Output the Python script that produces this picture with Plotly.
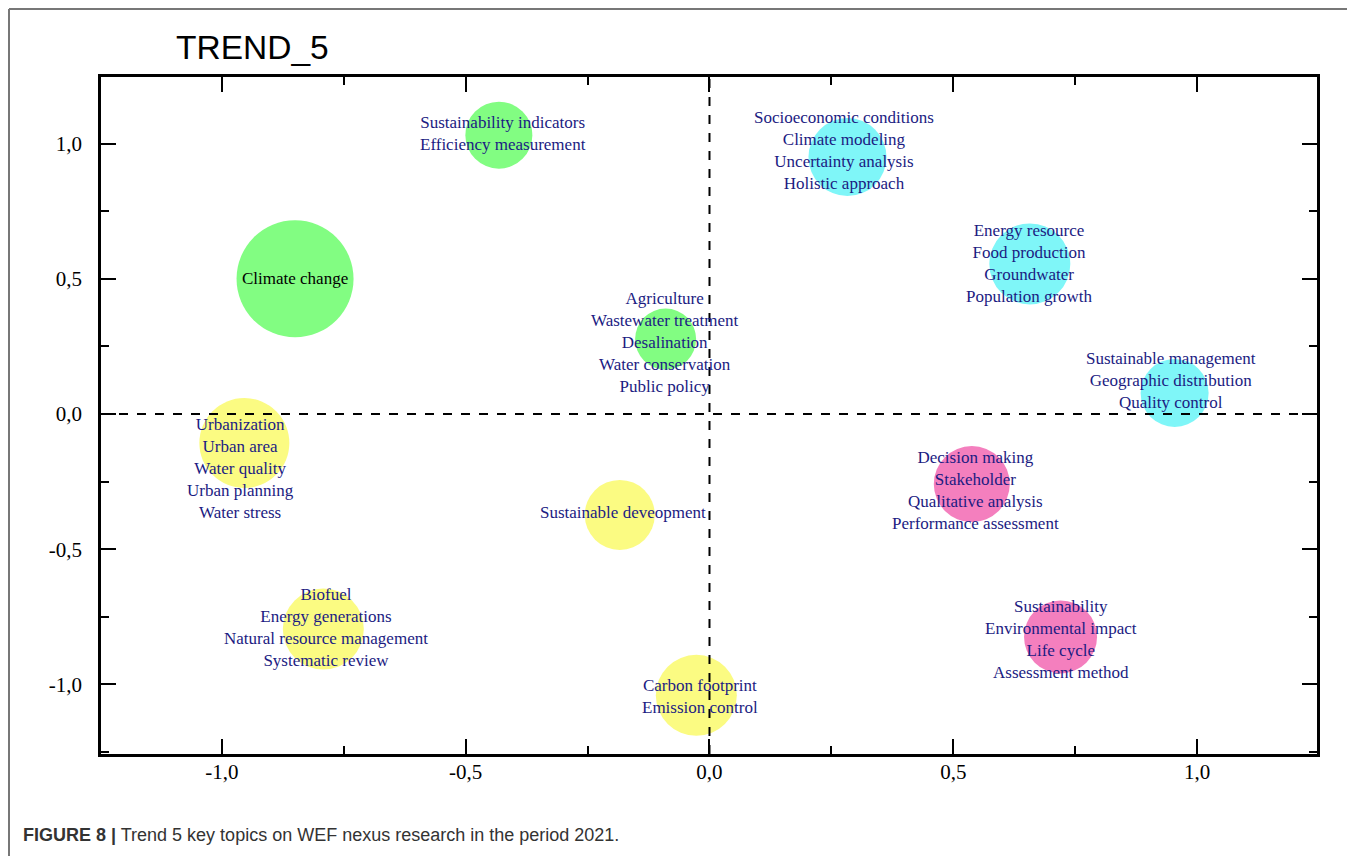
import plotly.graph_objects as go

# ---- data ----
topics = [
    ["Sustainability indicators", "Efficiency measurement"],
    ["Climate change"],
    ["Agriculture", "Wastewater treatment", "Desalination", "Water conservation", "Public policy"],
    ["Socioeconomic conditions", "Climate modeling", "Uncertainty analysis", "Holistic approach"],
    ["Energy resource", "Food production", "Groundwater", "Population growth"],
    ["Sustainable management", "Geographic distribution", "Quality control"],
    ["Urbanization", "Urban area", "Water quality", "Urban planning", "Water stress"],
    ["Biofuel", "Energy generations", "Natural resource management", "Systematic review"],
    ["Sustainable deveopment"],
    ["Carbon footprint", "Emission control"],
    ["Decision making", "Stakeholder", "Qualitative analysis", "Performance assessment"],
    ["Sustainability", "Environmental impact", "Life cycle", "Assessment method"],
]
x_vals = [-0.432, -0.850, -0.090, 0.283, 0.657, 0.954, -0.954, -0.792, -0.184, -0.027, 0.538, 0.720]
y_vals = [1.031, 0.500, 0.277, 0.950, 0.555, 0.078, -0.107, -0.795, -0.373, -1.040, -0.259, -0.824]
weights = [67, 117, 61, 78, 81, 68, 90, 81, 70, 81, 76, 73]
groups = ["green", "green", "green", "cyan", "cyan", "cyan",
          "yellow", "yellow", "yellow", "yellow", "pink", "pink"]

tick_vals = [-1.0, -0.5, 0.0, 0.5, 1.0]
tick_text = ["-1,0", "-0,5", "0,0", "0,5", "1,0"]
minor_vals = [-1.25, -0.75, -0.25, 0.25, 0.75, 1.25]

# ---- styles ----
group_colors = {"green": "#82fd82", "cyan": "#7ff6f8", "yellow": "#fbfb82", "pink": "#f47fbe"}
label_shift = [(4, 1.5), (0, 0), (-1, -3), (-3, 7), (0, 0), (-4, 12),
               (-4, -26), (3, 2), (3, 2), (4, -1.5), (4, -6), (0, -3)]

SERIF = "Liberation Serif, Times New Roman, serif"
SANS = "Liberation Sans, Arial, sans-serif"

fig = go.Figure()
fig.add_trace(go.Scatter(
    x=x_vals, y=y_vals, mode="markers",
    marker=dict(size=weights, sizemode="diameter", sizeref=1,
                color=[group_colors[g] for g in groups], opacity=1,
                line=dict(width=0)),
    hoverinfo="skip", showlegend=False,
))

annotations = []
for i, lines in enumerate(topics):
    dx, dy = label_shift[i]
    annotations.append(dict(
        x=x_vals[i], y=y_vals[i], xref="x", yref="y", showarrow=False,
        text="<br>".join(lines), xshift=dx, yshift=dy,
        font=dict(family=SERIF, size=17,
                  color="#000000" if lines == ["Climate change"] else "#1b1b82"),
        align="center",
    ))

# page body margin of 8px offsets the figure; work in page pixels
OFF = 8
W, H = 1355 - OFF, 856 - OFF
L, R, T, B = 101 - OFF, 38, 77 - OFF, 102
pw, ph = W - L - R, H - T - B

def px_x(p):  # page pixel -> paper x
    return (p - OFF - L) / pw

def px_y(p):  # page pixel -> paper y
    return (H - B - (p - OFF)) / ph

annotations.append(dict(
    x=px_x(174), y=px_y(48), xref="paper", yref="paper", showarrow=False,
    xanchor="left", yanchor="middle", text="TREND_5",
    font=dict(family=SANS, size=33.5, color="#000000"),
))
annotations.append(dict(
    x=px_x(21), y=px_y(835), xref="paper", yref="paper", showarrow=False,
    xanchor="left", yanchor="middle",
    text="<b>FIGURE 8 |</b> Trend 5 key topics on WEF nexus research in the period 2021.",
    font=dict(family="Liberation Sans Narrow, Arial Narrow, " + SANS, size=18, color="#333333"),
))

shapes = [
    dict(type="line", xref="x", yref="paper", x0=0, x1=0, y0=0, y1=1,
         line=dict(color="black", width=2, dash="dash")),
    dict(type="line", xref="paper", yref="paper", x0=0, x1=1, y0=px_y(414), y1=px_y(414),
         line=dict(color="black", width=2, dash="dash")),
    dict(type="line", xref="paper", yref="paper", x0=px_x(9), x1=px_x(9),
         y0=px_y(870), y1=px_y(9), line=dict(color="#777777", width=2)),
    dict(type="line", xref="paper", yref="paper", x0=px_x(9), x1=px_x(1370),
         y0=px_y(9), y1=px_y(9), line=dict(color="#777777", width=2)),
]

axis_common = dict(
    showgrid=False, zeroline=False, showline=True, linecolor="black", linewidth=2.5,
    mirror="ticks", ticks="inside", ticklen=15, tickwidth=2, tickcolor="black",
    tickmode="array", tickvals=tick_vals, ticktext=tick_text,
    tickfont=dict(family=SERIF, size=21, color="black"),
    minor=dict(tickmode="array", tickvals=minor_vals, ticks="inside",
               ticklen=8, tickwidth=2, tickcolor="black"),
)

fig.update_layout(
    width=W, height=H, margin=dict(l=L, r=R, t=T, b=B),
    paper_bgcolor="white", plot_bgcolor="white",
    xaxis=dict(range=[-1.248, 1.246], ticklabelstandoff=-3, **axis_common),
    yaxis=dict(range=[-1.257, 1.246], ticklabelstandoff=12, **axis_common),
    annotations=annotations, shapes=shapes, showlegend=False,
)

fig.write_html("out.html")
